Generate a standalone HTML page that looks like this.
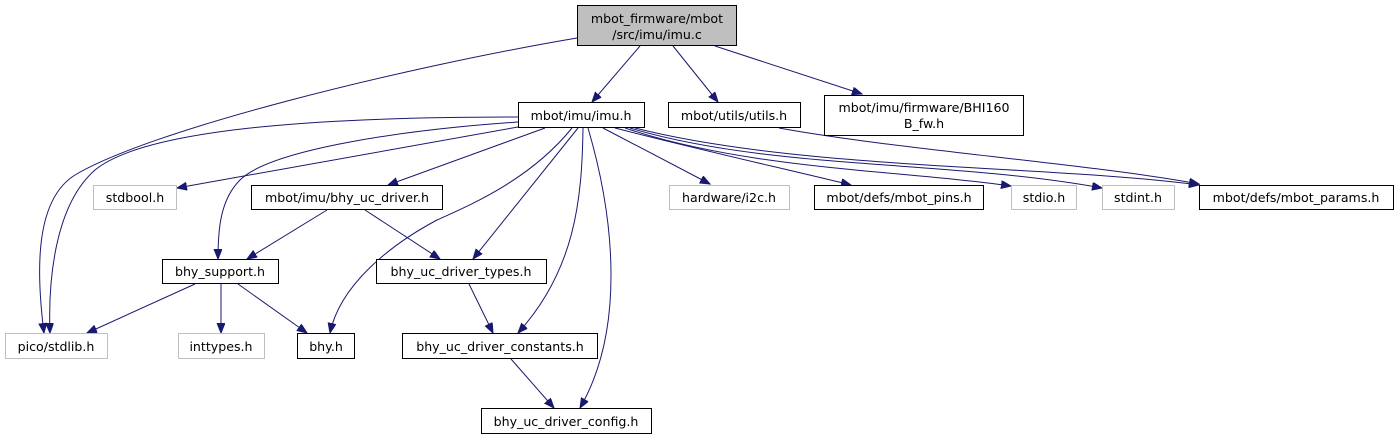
<!DOCTYPE html>
<html><head><meta charset="utf-8"><style>
html,body{margin:0;padding:0;background:#fff;}
svg{display:block;}
text{font-family:"DejaVu Sans","Liberation Sans",sans-serif;font-size:12.6px;fill:#000;text-anchor:middle;}
.b{fill:#fff;stroke:#000;stroke-width:1;}
.g{fill:#fff;stroke:#bfbfbf;stroke-width:1;}
.e{fill:none;stroke:#191970;stroke-width:1;marker-end:url(#a);}
</style></head><body>
<svg width="1396" height="440" viewBox="0 0 1396 440" xmlns="http://www.w3.org/2000/svg">
<defs>
<marker id="a" markerUnits="userSpaceOnUse" markerWidth="12" markerHeight="10" refX="10" refY="4" orient="auto">
<path d="M0,0 L10,4 L0,8 Z" fill="#191970" stroke="#191970"/>
</marker>
</defs>
<path class="e" d="M577,38 C400,68 150,130 75,175 C35,200 36,270 44,333"/>
<path class="e" d="M640,46 L592,102"/>
<path class="e" d="M673,46 L718,102"/>
<path class="e" d="M715,46 L862,94"/>
<path class="e" d="M518,117 C350,117 150,125 95,170 C55,205 48,280 50,333"/>
<path class="e" d="M518,122 C400,130 270,150 240,180 C220,200 218,230 218,259"/>
<path class="e" d="M518,127 L177,188"/>
<path class="e" d="M545,128 L388,185"/>
<path class="e" d="M572,128 C530,180 470,205 437,220 C390,245 340,285 330,333"/>
<path class="e" d="M578,128 L473,259"/>
<path class="e" d="M583,128 C582,200 575,270 518,333"/>
<path class="e" d="M588,128 C615,220 625,330 580,408"/>
<path class="e" d="M603,128 L710,184"/>
<path class="e" d="M615,128 C700,150 790,170 851,185"/>
<path class="e" d="M625,128 C750,170 900,170 1011,186"/>
<path class="e" d="M630,128 C770,170 950,160 1102,188"/>
<path class="e" d="M635,128 C800,170 1050,165 1199,185"/>
<path class="e" d="M779,128 C900,150 1100,165 1199,184"/>
<path class="e" d="M327,210 L247,259"/>
<path class="e" d="M365,210 L440,259"/>
<path class="e" d="M469,284 L493,333"/>
<path class="e" d="M195,284 L87,333"/>
<path class="e" d="M221,284 L221,333"/>
<path class="e" d="M238,284 L307,333"/>
<path class="e" d="M511,359 L554,408"/>
<rect x="577.5" y="5.5" width="159" height="40" fill="#bfbfbf" stroke="#000"/>
<text x="657" y="23">mbot_firmware/mbot</text>
<text x="657" y="39">/src/imu/imu.c</text>
<rect class="b" x="518.5" y="102.5" width="126" height="25"/><text x="581" y="120">mbot/imu/imu.h</text>
<rect class="b" x="668.5" y="102.5" width="132" height="25"/><text x="734" y="120">mbot/utils/utils.h</text>
<rect class="b" x="824.5" y="95.5" width="199" height="40"/>
<text x="924" y="112">mbot/imu/firmware/BHI160</text><text x="924" y="128">B_fw.h</text>
<rect class="g" x="93.5" y="185.5" width="83" height="24"/><text x="135" y="202">stdbool.h</text>
<rect class="b" x="251.5" y="185.5" width="191" height="24"/><text x="347" y="202">mbot/imu/bhy_uc_driver.h</text>
<rect class="g" x="669.5" y="185.5" width="120" height="24"/><text x="729" y="202">hardware/i2c.h</text>
<rect class="b" x="814.5" y="185.5" width="169" height="24"/><text x="899" y="202">mbot/defs/mbot_pins.h</text>
<rect class="g" x="1011.5" y="185.5" width="65" height="24"/><text x="1044" y="202">stdio.h</text>
<rect class="g" x="1102.5" y="185.5" width="72" height="24"/><text x="1138" y="202">stdint.h</text>
<rect class="b" x="1199.5" y="185.5" width="194" height="24"/><text x="1296" y="202">mbot/defs/mbot_params.h</text>
<rect class="b" x="162.5" y="259.5" width="116" height="24"/><text x="220" y="276">bhy_support.h</text>
<rect class="b" x="376.5" y="259.5" width="170" height="24"/><text x="461" y="276">bhy_uc_driver_types.h</text>
<rect class="g" x="5.5" y="333.5" width="102" height="25"/><text x="56" y="351">pico/stdlib.h</text>
<rect class="g" x="178.5" y="333.5" width="86" height="25"/><text x="221" y="351">inttypes.h</text>
<rect class="b" x="297.5" y="333.5" width="57" height="25"/><text x="326" y="351">bhy.h</text>
<rect class="b" x="402.5" y="333.5" width="195" height="25"/><text x="500" y="351">bhy_uc_driver_constants.h</text>
<rect class="b" x="481.5" y="408.5" width="170" height="25"/><text x="566" y="426">bhy_uc_driver_config.h</text>
</svg>
</body></html>
